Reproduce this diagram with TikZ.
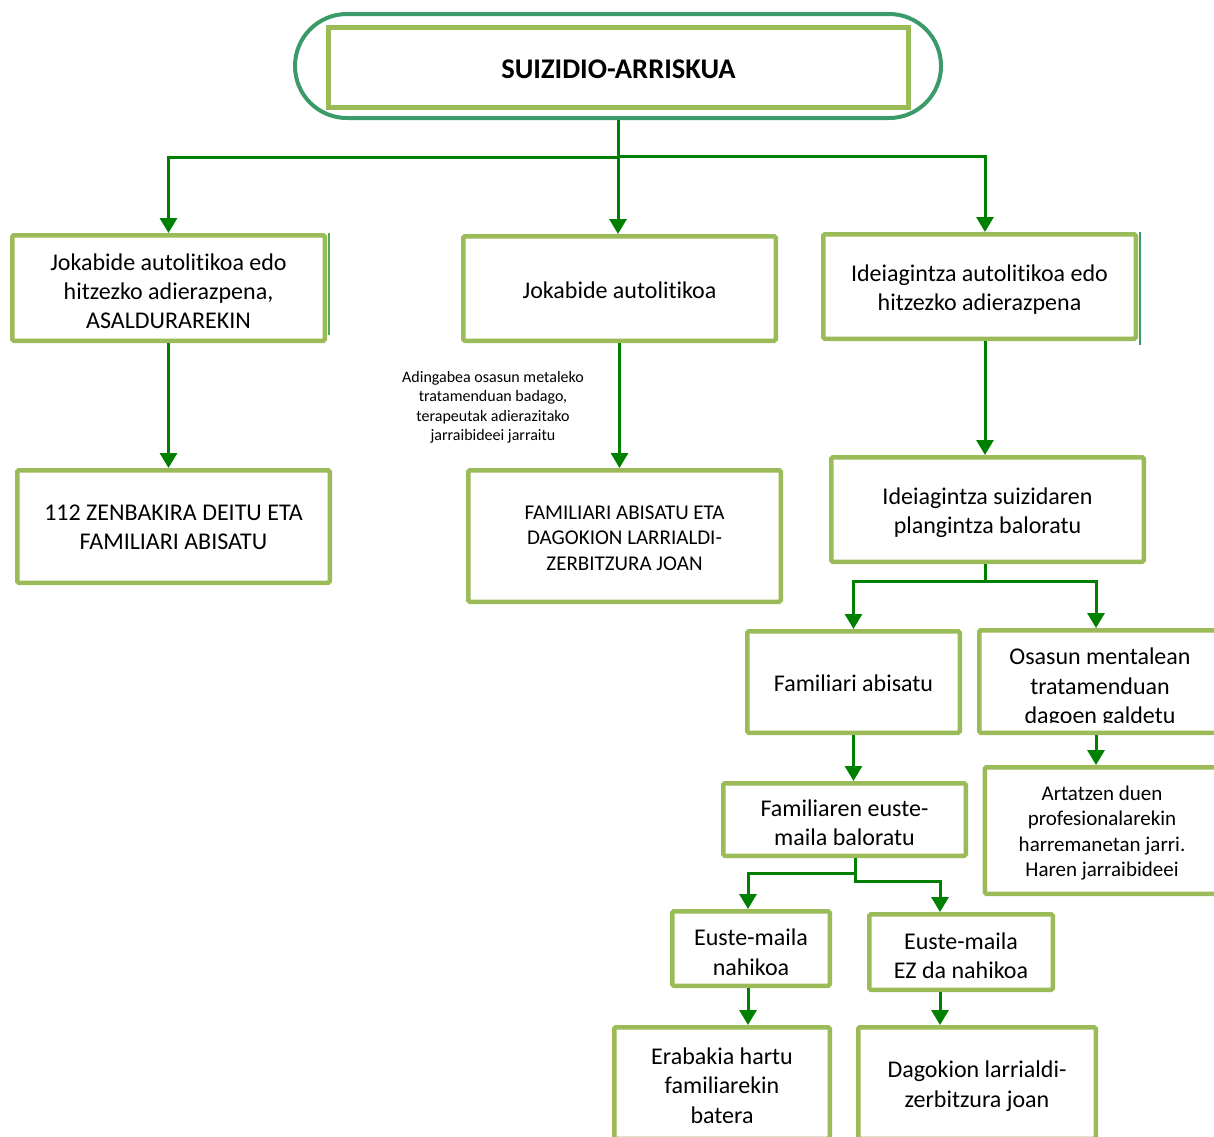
\documentclass[tikz,border=0pt]{standalone}
\usepackage{fontspec}
\setmainfont{Carlito}[Ligatures=NoCommon]
\usetikzlibrary{arrows.meta}
\definecolor{boxline}{RGB}{155,187,89}
\definecolor{ovalline}{RGB}{58,154,104}
\definecolor{arrowgreen}{RGB}{0,128,0}
\definecolor{edgegreen}{RGB}{76,175,80}
% invisible rule that lifts the first line of a box
\newcommand\upstrut[1]{\rule{0pt}{#1}}
\begin{document}
\begin{tikzpicture}[x=1pt,y=-1pt,
  box/.style={draw=boxline, line width=4.5pt, rounded corners=1.5pt, fill=white,
    align=center, inner sep=0pt, font=\fontsize{24}{29.3}\selectfont},
  smalltext/.style={font=\fontsize{21}{25.6}\selectfont},
  notetext/.style={align=center, inner sep=0pt, font=\fontsize{16}{19.5}\selectfont},
  arr/.style={draw=arrowgreen, line width=3pt, -{Triangle[width=17pt,length=15pt]}}]
\useasboundingbox (0,0) rectangle (1214,1136);
\clip (0,0) rectangle (1214,1136);

% title
\node[draw=ovalline, line width=4pt, rounded corners=51.9pt,
      minimum width=646pt, minimum height=104pt] (top) at (618,66) {};
\node[draw=boxline, line width=5.3pt, minimum width=580pt, minimum height=80pt,
      inner sep=0pt, font=\fontsize{28.5}{34}\selectfont\bfseries]
      (title) at (618.5,67.5) {\upstrut{0.75em}SUIZIDIO-ARRISKUA};

% first level
\node[box, minimum width=312.5pt, minimum height=105.5pt] (A) at (168.5,288)
  {\upstrut{0.96em}Jokabide autolitikoa edo\\hitzezko adierazpena,\\ASALDURAREKIN};
\node[box, minimum width=312.5pt, minimum height=104.5pt] (B) at (619.5,288.5)
  {\upstrut{0.8em}Jokabide autolitikoa};
\node[box, minimum width=312.5pt, minimum height=104.5pt] (C) at (979.5,286.5)
  {\upstrut{0.96em}Ideiagintza autolitikoa edo\\hitzezko adierazpena};
% side edges next to the first and third box
\draw[edgegreen, line width=2pt] ([xshift=1.5pt]A.north east) -- ([xshift=1.5pt,yshift=8pt]A.south east);
\draw[ovalline, line width=2.5pt] ([xshift=2pt]C.north east) -- ([xshift=2pt,yshift=-4pt]C.south east);

% second level
\node[box, minimum width=312.5pt, minimum height=112.5pt] (D) at (173.5,526.5)
  {\upstrut{0.7em}112 ZENBAKIRA DEITU ETA\\FAMILIARI ABISATU};
\node[box, smalltext, minimum width=312.5pt, minimum height=131.5pt] (E) at (624.5,536)
  {\upstrut{0.85em}FAMILIARI ABISATU ETA\\DAGOKION LARRIALDI-\\ZERBITZURA JOAN};
\node[notetext] (note) at (493,407.5)
  {Adingabea osasun metaleko\\tratamenduan badago,\\terapeutak adierazitako\\jarraibideei jarraitu};
\node[box, minimum width=312.5pt, minimum height=104.5pt] (F) at (987.5,509.5)
  {\upstrut{0.96em}Ideiagintza suizidaren\\plangintza baloratu};

% third level
\node[box, minimum width=212.5pt, minimum height=101.5pt] (G) at (853.5,682)
  {\upstrut{0.8em}Familiari abisatu};
\node[box, minimum width=241.5pt, minimum height=102.5pt] (H) at (1100,681.5) {};
\begin{scope}
  \clip (977,628) rectangle (1214,722);
  \node[align=center, inner sep=0pt, font=\fontsize{24}{29.3}\selectfont] (Htext) at (1100,688)
    {Osasun mentalean\\tratamenduan\\dagoen galdetu};
\end{scope}
\node[box, smalltext, minimum width=234.5pt, minimum height=126.5pt] (I) at (1102,830.5)
  {\upstrut{0.94em}Artatzen duen\\profesionalarekin\\harremanetan jarri.\\Haren jarraibideei};
\node[box, minimum width=242.5pt, minimum height=72.5pt] (J) at (844.5,819.5)
  {\upstrut{0.96em}Familiaren euste-\\maila baloratu};
\node[box, minimum width=157.5pt, minimum height=74.5pt] (K) at (751,948.5)
  {\upstrut{1.0em}Euste-maila\\nahikoa};
\node[box, minimum width=183.5pt, minimum height=75.5pt] (L) at (961,952)
  {\upstrut{1.0em}Euste-maila\\EZ da nahikoa};
\node[box, minimum width=215.5pt, minimum height=111.5pt] (M) at (722,1083)
  {\upstrut{0.9em}Erabakia hartu\\familiarekin\\batera};
\node[box, minimum width=237.5pt, minimum height=111.5pt] (N) at (977,1083)
  {\upstrut{0.96em}Dagokion larrialdi-\\zerbitzura joan};

% connectors
\coordinate (cN) at ([xshift=5.5pt]C.north);
\draw[arr] (top.south) -- ++(0,37) -| (A.north);
\draw[arr] (top.south) -- (top.south |- B.north);
\draw[arr] (top.south) -- ++(0,36) -| (cN);
\draw[arr] (A.south) -- (A.south |- D.north);
\draw[arr] (B.south) -- (B.south |- E.north);
\coordinate (cS) at ([xshift=5.5pt]C.south);
\draw[arr] (cS) -- (cS |- F.north);
\coordinate (fS) at ([xshift=-2.5pt]F.south);
\coordinate (hN) at ([xshift=-4pt]H.north);
\draw[arr] (fS) -- ++(0,17) -| (G.north);
\draw[arr] (fS) -- ++(0,17) -| (hN);
\coordinate (hS) at ([xshift=-4pt]H.south);
\draw[arr] (hS) -- (hS |- I.north);
\draw[arr] (G.south) -- (G.south |- J.north);
\coordinate (jS) at ([xshift=10.5pt]J.south);
\coordinate (kN) at ([xshift=-3pt]K.north);
\coordinate (lN) at ([xshift=-21pt]L.north);
\draw[arr] (jS) -- ++(0,15) -| (kN);
\draw[arr] (jS) -- ++(0,23) -| (lN);
\coordinate (kS) at ([xshift=-3pt]K.south);
\draw[arr] (kS) -- (kS |- M.north);
\coordinate (lS) at ([xshift=-21pt]L.south);
\draw[arr] (lS) -- (lS |- N.north);
\end{tikzpicture}
\end{document}
